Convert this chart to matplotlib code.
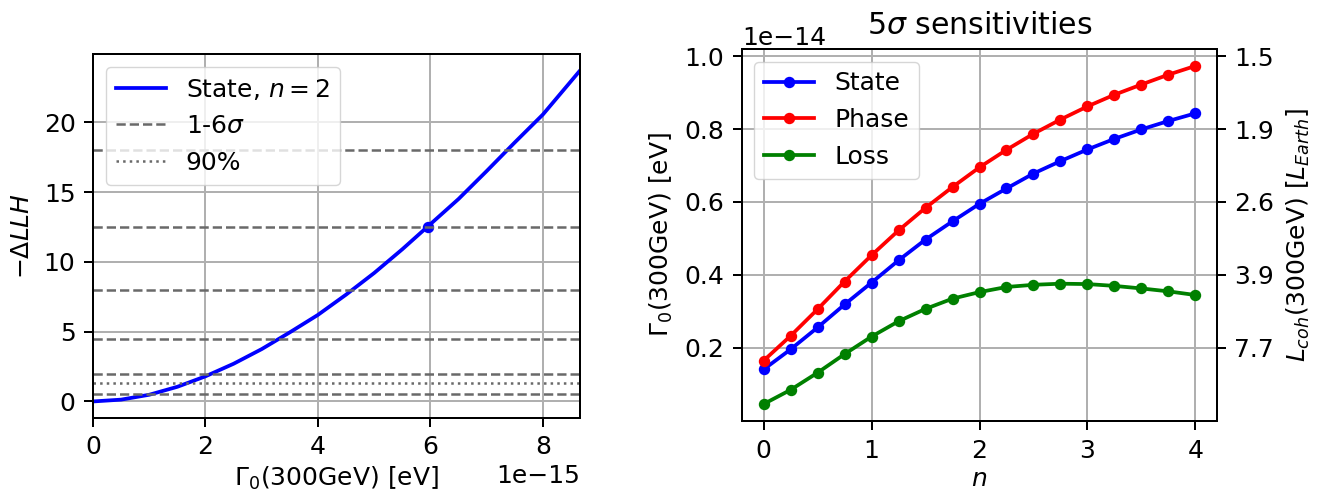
import numpy as np
import matplotlib
matplotlib.use("Agg")
import matplotlib.pyplot as plt

# ---- data ----
# Left panel: likelihood scan for the State model at n = 2 (Gamma0 in units of 1e-15 eV)
scan_gamma = [0, 0.5, 1.0, 1.5, 2.0, 2.5, 3.0, 3.5, 4.0, 4.5, 5.0, 5.5, 6.0, 6.5, 7.0, 7.5, 8.0, 8.66]
scan_llh = [0, 0.13, 0.48, 1.05, 1.8, 2.7, 3.75, 4.95, 6.2, 7.65, 9.2, 10.9, 12.7, 14.5, 16.5, 18.55, 20.55, 23.7]
sigma_levels = [1, 2, 3, 4, 5, 6]
llh_90 = 1.353

# Right panel: 5 sigma sensitivities vs n (Gamma0 in units of 1e-14 eV)
n_vals = [0, 0.25, 0.5, 0.75, 1.0, 1.25, 1.5, 1.75, 2.0, 2.25, 2.5, 2.75, 3.0, 3.25, 3.5, 3.75, 4.0]
state = [0.141, 0.196, 0.256, 0.319, 0.379, 0.440, 0.497, 0.547, 0.595, 0.637, 0.678,
         0.712, 0.744, 0.773, 0.799, 0.822, 0.843]
phase = [0.165, 0.233, 0.306, 0.382, 0.454, 0.522, 0.584, 0.641, 0.695, 0.743, 0.787,
         0.826, 0.862, 0.894, 0.922, 0.949, 0.973]
loss = [0.046, 0.085, 0.132, 0.183, 0.231, 0.273, 0.307, 0.335, 0.353, 0.367, 0.373,
        0.376, 0.375, 0.370, 0.363, 0.355, 0.345]
gamma_ticks = [0.2, 0.4, 0.6, 0.8, 1.0]
left_xticks = [0, 2, 4, 6, 8]
left_yticks = [0, 5, 10, 15, 20]
n_ticks = [0, 1, 2, 3, 4]

HBARC = 1.97327e-7      # eV m
L_EARTH = 1.2742e7      # m

# overall scale of fonts / lines
S = 1.8
plt.rcParams.update({
    "font.size": 10 * S,
    "lines.linewidth": 1.5 * S,
    "lines.markersize": 4 * S,
    "axes.linewidth": 0.8 * S,
    "grid.linewidth": 0.8 * S,
    "xtick.major.size": 3.5 * S,
    "ytick.major.size": 3.5 * S,
    "xtick.major.width": 0.8 * S,
    "ytick.major.width": 0.8 * S,
    "xtick.major.pad": 3.5 * S,
    "ytick.major.pad": 3.5 * S,
    "axes.labelpad": 4.0 * S,
    "axes.titlepad": 6.0 * S,
    "legend.framealpha": 0.8,
})

W, H = 1319, 493


def box(x0, y0, x1, y1):
    """Axes rectangle from pixel corners (top-left origin)."""
    return [x0 / W, 1 - y1 / H, (x1 - x0) / W, (y1 - y0) / H]


fig = plt.figure(figsize=(W / 100, H / 100), dpi=100)

# ---- left panel ----
ax1 = fig.add_axes(box(93, 54, 580, 418))
gx = np.array(scan_gamma) * 1e-15
ax1.plot(gx, scan_llh, color="blue", label="State, $n=2$")
n2 = n_vals.index(2.0)
ax1.plot(state[n2] * 1e-14, 5 ** 2 / 2, "o", color="blue")
for i, s in enumerate(sigma_levels):
    ax1.axhline(s ** 2 / 2, color="dimgray", ls="--", lw=1.0 * S,
                label="1-6$\\sigma$" if i == 0 else None)
ax1.axhline(llh_90, color="dimgray", ls=":", lw=1.0 * S, label="90%")
ax1.set_xlim(0, gx[-1])
ax1.set_xticks(np.array(left_xticks) * 1e-15)
ax1.set_yticks(left_yticks)
ax1.grid(True)
ax1.set_xlabel("$\\Gamma_0$(300GeV) [eV]", labelpad=2.0 * S)
ax1.set_ylabel("$-\\Delta LLH$")
ax1.legend(loc="upper left")

# ---- right panel ----
ax2 = fig.add_axes(box(742, 49, 1217, 421))
nv = np.array(n_vals)
ax2.plot(nv, np.array(state) * 1e-14, "o-", color="blue", label="State")
ax2.plot(nv, np.array(phase) * 1e-14, "o-", color="red", label="Phase")
ax2.plot(nv, np.array(loss) * 1e-14, "o-", color="green", label="Loss")
ax2.grid(True)
ax2.set_xticks(n_ticks)
ax2.set_xlabel("$n$", labelpad=2.0 * S)
ax2.set_ylabel("$\\Gamma_0$(300GeV) [eV]")
ax2.set_title("5$\\sigma$ sensitivities")
ax2.set_yticks(np.array(gamma_ticks) * 1e-14)
ax2.legend(loc="upper left")

ax3 = ax2.twinx()
ax3.set_ylim(ax2.get_ylim())
tick_vals = np.array(gamma_ticks) * 1e-14
ax3.set_yticks(tick_vals)
ax3.set_yticklabels([f"{HBARC / g / L_EARTH:.1f}" for g in tick_vals])
ax3.set_ylabel("$L_{coh}$(300GeV) [$L_{Earth}$]")

fig.savefig("out.png", dpi=100)
